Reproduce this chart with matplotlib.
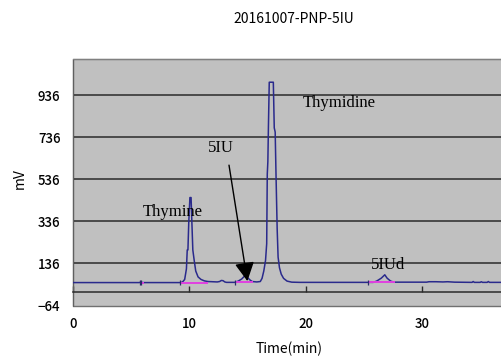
import matplotlib
matplotlib.use("Agg")
import matplotlib.pyplot as plt

# Chromatogram trace (retention time in min, detector signal in mV)
time_min = [0.0, 5.7, 5.75, 5.9, 6.0, 9.3, 9.45, 9.6, 9.75, 9.82, 9.88, 9.95,
            10.05, 10.15, 10.22, 10.3, 10.42, 10.55, 10.75, 11.0, 11.3, 11.6,
            12.0, 12.4, 12.6, 12.75, 12.9, 13.05, 13.2, 13.9, 14.2, 14.5, 14.75,
            14.95, 15.2, 15.4, 15.8, 16.1, 16.25, 16.4, 16.55, 16.65, 16.7,
            16.75, 16.8, 16.87, 17.22, 17.3, 17.38, 17.45, 17.55, 17.63, 17.75,
            17.9, 18.1, 18.4, 18.8, 19.5, 25.8, 26.1, 26.5, 26.8, 27.0, 27.3,
            27.6, 30.4, 30.6, 31.2, 31.8, 32.2, 32.8, 34.3, 34.4, 34.5, 35.0,
            35.1, 35.2, 35.6, 35.7, 35.8, 40.0]
signal_mv = [45, 45, 46, 46, 45, 45, 50, 60, 110, 200, 200, 330,
             449, 449, 330, 200, 150, 100, 72, 60, 53, 50,
             49, 48, 50, 55, 54, 48, 46, 46, 52, 62, 76,
             72, 58, 50, 48, 50, 65, 100, 150, 230, 560,
             620, 790, 997, 997, 780, 760, 560, 300, 166, 115,
             85, 65, 52, 47, 46, 46, 52, 66, 82, 66, 52,
             47, 47, 49, 49, 48, 49, 47, 46, 50, 46, 46,
             49, 46, 46, 50, 46, 46]

# Integration baselines (start, end, level)
base_start = [5.78, 9.2, 13.9, 25.4]
base_end = [6.1, 11.6, 15.45, 27.7]
base_level = [45, 45, 46, 46]

# Peak start/end markers
marker_times = [5.75, 5.88, 9.2, 13.9, 25.4]
marker_level = 46

yticks = [-64, 136, 336, 536, 736, 936]
xticks = [0, 10, 20, 30]

fig = plt.figure(figsize=(5.02, 3.58), dpi=100)
ax = fig.add_axes([0.1454, 0.1466, 0.927, 0.6878])
ax.set_facecolor("#c0c0c0")
ax.patch.set_edgecolor("#707070")
ax.patch.set_linewidth(1.0)

ax.set_xlim(0, 40)
ax.set_ylim(-64, 1106)

for y in yticks[1:]:
    ax.axhline(y, color="#2a2a2a", lw=1.1, zorder=1)

ax.plot(time_min, signal_mv, color="#2a2a8c", lw=1.1, zorder=3)
ax.hlines(base_level, base_start, base_end, color="#e040e0", lw=1.4, zorder=4)
ax.vlines(marker_times, marker_level - 11, marker_level + 11,
          color="#2a2a6a", lw=0.9, zorder=4)

# axis styling: x axis crosses at 0 mV with inward ticks
ax.spines["bottom"].set_position(("data", 0))
ax.spines["bottom"].set_color("#2a2a2a")
ax.spines["bottom"].set_linewidth(1.1)
ax.spines["right"].set_visible(False)
ax.spines["top"].set_color("#808080")
ax.spines["left"].set_color("#606060")

tick_font = dict(family=["Noto Sans CJK JP", "DejaVu Sans"], size=9.5,
                 weight="medium")
ax.set_xticks(xticks)
ax.set_xticklabels([str(v) for v in xticks], fontdict=tick_font)
ax.set_yticks(yticks)
ax.set_yticklabels([str(v).replace("-", "\u2212") for v in yticks], fontdict=tick_font)
ax.tick_params(axis="x", direction="in", length=4, width=1, pad=18, colors="#2a2a2a")
ax.tick_params(axis="y", length=0, pad=9, colors="#2a2a2a")
for lab in ax.get_xticklabels() + ax.get_yticklabels():
    lab.set_color("black")

# peak labels
serif = dict(family="Liberation Serif", size=12, color="black")
ax.text(19.75, 879, "Thymidine", va="baseline", **serif)
ax.text(5.99, 361, "Thymine", va="baseline", **serif)
ax.text(11.58, 666, "5IU", va="baseline", **serif)
ax.text(25.6, 111, "5IUd", va="baseline", **serif)
ax.annotate("", xy=(14.99, 52), xytext=(13.41, 603),
            arrowprops=dict(arrowstyle="-|>,head_length=1.15,head_width=0.6",
                            color="black", lw=1.0, shrinkA=0, shrinkB=0),
            zorder=5)

label_font = dict(family=["Noto Sans CJK JP", "DejaVu Sans"], size=10)
fig.text(294 / 502, 1 - 19 / 358, "20161007-PNP-5IU", ha="center", va="center",
         **label_font)
fig.text(289 / 502, 1 - 349 / 358, "Time(min)", ha="center", va="center",
         **label_font)
fig.text(20 / 502, 1 - 179 / 358, "mV", ha="center", va="center", rotation=90,
         **label_font)

fig.savefig("out.png", dpi=100, facecolor="white")
